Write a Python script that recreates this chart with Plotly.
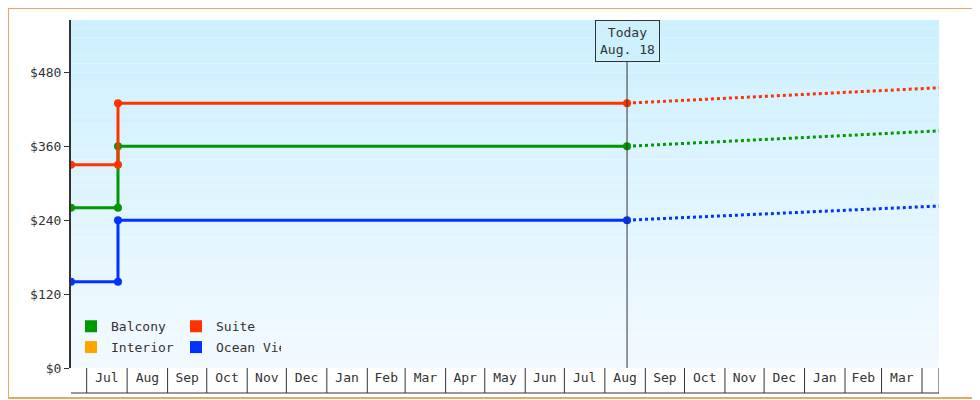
import pandas as pd
import plotly.graph_objects as go

# cabin price history and projection
step_dates = ["2023-06-19", "2023-07-25", "2023-07-25", "2024-08-18"]
proj_dates = ["2024-08-18", "2025-04-14"]
today = "2024-08-18"

balcony = [260, 260, 360, 360]
suite = [330, 330, 430, 430]
ocean_view = [140, 140, 240, 240]

balcony_proj = [360, 385]
suite_proj = [430, 455]
ocean_view_proj = [240, 263]

series = [
    ("Balcony", "#009900", balcony, balcony_proj),
    ("Suite", "#ff3300", suite, suite_proj),
    ("Ocean View", "#0033ff", ocean_view, ocean_view_proj),
]
legend_rows = [
    [("Balcony", "#009900"), ("Suite", "#ff3300")],
    [("Interior", "#ffa500"), ("Ocean View", "#0033ff")],
]

# page has an 8px body margin, so the figure is shrunk by that much
L, R, T, B = 63, 41, 12, 32
W, H = 972, 392
pw, ph = W - L - R, H - T - B

fig = go.Figure()

for name, color, vals, proj in series:
    fig.add_trace(go.Scatter(x=step_dates, y=vals, mode="lines+markers",
                             line=dict(color=color, width=3),
                             marker=dict(size=8, color=color), showlegend=False))
    fig.add_trace(go.Scatter(x=proj_dates, y=proj, mode="lines",
                             line=dict(color=color, width=3, dash="dot"),
                             showlegend=False))

for i, row in enumerate(legend_rows):
    lg = "legend" if i == 0 else "legend2"
    for name, color in row:
        fig.add_trace(go.Scatter(x=[None], y=[None], mode="markers", name=name,
                                 marker=dict(symbol="square", size=12, color=color),
                                 legend=lg))

# gradient background
shapes = []
n = 40
for i in range(n):
    f = i / (n - 1)
    r = int(0xcd + (0xf2 - 0xcd) * (1 - f))
    g = int(0xf0 + (0xfa - 0xf0) * (1 - f))
    shapes.append(dict(type="rect", xref="paper", yref="paper", x0=0, x1=1,
                       y0=i / n, y1=(i + 1) / n, fillcolor=f"rgb({r},{g},255)",
                       line_width=0, layer="below"))

# month separators under the axis
months = pd.date_range("2023-07-01", "2025-04-01", freq="MS")
bot = -25 / ph
for m in list(months) + [pd.Timestamp("2025-04-14")]:
    shapes.append(dict(type="line", xref="x", yref="paper", x0=m, x1=m, y0=0, y1=bot,
                       line=dict(color="#333", width=1)))
shapes.append(dict(type="line", xref="paper", yref="paper", x0=0, x1=1, y0=bot, y1=bot,
                   line=dict(color="#333", width=1)))
# today line
shapes.append(dict(type="line", xref="x", yref="paper", x0=today, x1=today, y0=0, y1=1,
                   line=dict(color="#333", width=1)))
# outer border
shapes.append(dict(type="rect", xref="paper", yref="paper",
                   x0=-L / pw, x1=(W - 2 - L) / pw,
                   y0=-(B - 2) / ph, y1=1 + T / ph,
                   line=dict(color="#e8a860", width=2)))

fig.update_layout(
    width=W, height=H, margin=dict(l=L, r=R, t=T, b=B),
    paper_bgcolor="white", plot_bgcolor="rgba(0,0,0,0)",
    font=dict(family="DejaVu Sans Mono", size=13, color="#333"),
    shapes=shapes,
    xaxis=dict(range=["2023-06-19", "2025-04-14"], dtick="M1", tick0="2023-07-01",
               tickformat="%b", ticklabelmode="period", ticks="", showgrid=False,
               showline=False, zeroline=False, tickfont=dict(size=13)),
    yaxis=dict(range=[0, 565], dtick=120, tickprefix="$", ticks="outside", ticklen=5,
               tickcolor="#333", showline=True, linecolor="#333", linewidth=2,
               showgrid=False, zeroline=False),
    legend=dict(orientation="h", x=0.0, y=0.12, xanchor="left", yanchor="middle",
                entrywidth=60, bgcolor="rgba(0,0,0,0)", itemsizing="constant",
                tracegroupgap=0),
    legend2=dict(orientation="h", x=0.0, y=0.06, xanchor="left", yanchor="middle",
                 entrywidth=60, bgcolor="rgba(0,0,0,0)", itemsizing="constant"),
    annotations=[dict(x=today, y=1, xref="x", yref="paper", yanchor="top",
                      text="Today<br>Aug. 18", showarrow=False, bgcolor="#cdf0fc",
                      bordercolor="#333", borderwidth=1, borderpad=4,
                      font=dict(size=13, color="#333"))],
)

fig.write_html("out.html")
